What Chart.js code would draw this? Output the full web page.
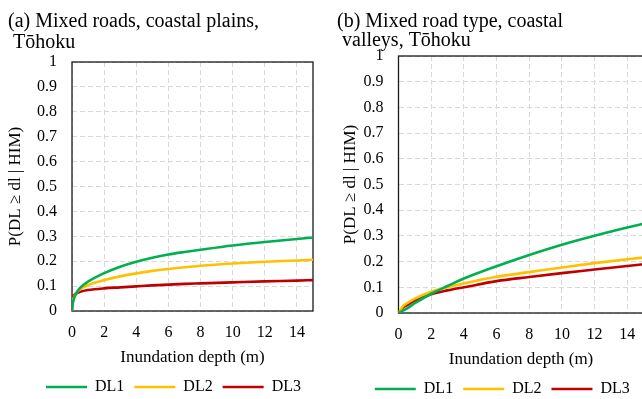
<!DOCTYPE html>
<html>
<head>
<meta charset="utf-8">
<script src="https://cdn.jsdelivr.net/npm/chart.js@4/dist/chart.umd.min.js"></script>
<style>
  html, body { margin: 0; padding: 0; width: 642px; height: 399px; overflow: hidden; background: #fff; }
  canvas { position: absolute; top: 0; }
  #chartA { left: 0; }
  #chartB { left: 330px; }
</style>
</head>
<body>
<canvas id="chartA" width="330" height="405"></canvas>
<canvas id="chartB" width="330" height="407"></canvas>
<script>
// panel (a) mixed roads, coastal plains
const titleA = ["(a) Mixed roads, coastal plains,", " Tōhoku"];
const depthA = [0, 0.02, 0.05, 0.1, 0.25, 0.5, 1, 2, 3, 4, 5, 6, 7, 8, 10, 12, 14, 15];
const dl1A = [0, 0.015, 0.03, 0.045, 0.07, 0.093, 0.118, 0.152, 0.178, 0.198, 0.214, 0.227, 0.237, 0.246, 0.263, 0.277, 0.289, 0.295];
const dl2A = [0, 0.022, 0.038, 0.052, 0.071, 0.087, 0.104, 0.124, 0.139, 0.151, 0.161, 0.169, 0.176, 0.182, 0.191, 0.198, 0.203, 0.206];
const dl3A = [0, 0.04, 0.052, 0.061, 0.07, 0.077, 0.084, 0.091, 0.095, 0.099, 0.103, 0.106, 0.109, 0.111, 0.115, 0.119, 0.122, 0.124];

// panel (b) mixed road type, coastal valleys
const titleB = ["(b) Mixed road type, coastal", " valleys, Tōhoku"];
const depthB = [0, 0.25, 0.5, 1, 2, 3, 4, 6, 8, 10, 12, 14, 15];
const dl1B = [0, 0.008, 0.017, 0.038, 0.075, 0.105, 0.134, 0.182, 0.226, 0.266, 0.301, 0.333, 0.347];
const dl2B = [0, 0.025, 0.037, 0.056, 0.083, 0.1, 0.115, 0.141, 0.159, 0.177, 0.194, 0.209, 0.216];
const dl3B = [0, 0.02, 0.03, 0.048, 0.073, 0.088, 0.1, 0.124, 0.14, 0.155, 0.169, 0.183, 0.19];

const seriesNames = ["DL1", "DL2", "DL3"];
const seriesColors = ["#00B050", "#FFC000", "#C00000"];
const xTickLabels = ["0", "2", "4", "6", "8", "10", "12", "14"];
const yTickLabels = ["0", "0.1", "0.2", "0.3", "0.4", "0.5", "0.6", "0.7", "0.8", "0.9", "1"];
const xTitle = "Inundation depth (m)";
const yTitle = "P(DL ≥ dl | HIM)";

const serif = "'Liberation Serif', 'Times New Roman', serif";

// heading text above the plot
const headingPlugin = {
    id: "heading",
    afterDraw(chart, args, opts) {
        const ctx = chart.ctx;
        ctx.save();
        ctx.font = "20px " + serif;
        ctx.fillStyle = "#000";
        ctx.textAlign = "left";
        ctx.textBaseline = "alphabetic";
        opts.lines.forEach((t, i) => ctx.fillText(t, opts.x, opts.y[i]));
        ctx.restore();
    }
};

// black box round the plot area
const framePlugin = {
    id: "frame",
    beforeDatasetsDraw(chart) {
        const {ctx, chartArea: a} = chart;
        ctx.save();
        ctx.strokeStyle = "#1a1a1a";
        ctx.lineWidth = 1.3;
        ctx.strokeRect(a.left, a.top, a.right - a.left, a.bottom - a.top);
        ctx.restore();
    }
};

function points(xs, ys) {
    return xs.map((x, i) => ({x: x, y: ys[i]}));
}

function makeChart(id, xs, series, cfg) {
    const ctx = document.getElementById(id).getContext("2d");
    return new Chart(ctx, {
        type: "line",
        data: {
            datasets: series.map((ys, i) => ({
                label: seriesNames[i],
                data: points(xs, ys),
                borderColor: seriesColors[i],
                backgroundColor: seriesColors[i],
                borderWidth: 2.6,
                pointRadius: 0,
                cubicInterpolationMode: "monotone",
                fill: false
            }))
        },
        options: {
            responsive: false,
            animation: false,
            layout: { padding: { left: cfg.padLeft, right: cfg.padRight, top: cfg.top, bottom: 0 } },
            scales: {
                x: {
                    type: "linear",
                    min: 0,
                    max: 15,
                    afterFit: s => { s.height = cfg.xHeight; },
                    ticks: {
                        stepSize: 2,
                        includeBounds: false,
                        maxRotation: 0,
                        padding: 12,
                        color: "#000",
                        font: { family: serif, size: 16 },
                        callback: v => xTickLabels[Math.round(v / 2)]
                    },
                    grid: { color: "#d9d9d9", lineWidth: 1, drawTicks: false },
                    border: { display: false, dash: [5, 3] },
                    title: {
                        display: true,
                        text: xTitle,
                        color: "#000",
                        font: { family: serif, size: 17 },
                        padding: { top: 0, bottom: 1 }
                    }
                },
                y: {
                    min: 0,
                    max: 1,
                    afterFit: s => { s.width = cfg.yWidth; },
                    ticks: {
                        stepSize: 0.1,
                        padding: 15,
                        color: "#000",
                        font: { family: serif, size: 16 },
                        callback: v => yTickLabels[Math.round(v * 10)]
                    },
                    grid: { color: "#d9d9d9", lineWidth: 1, drawTicks: false },
                    border: { display: false, dash: [5, 3] },
                    title: {
                        display: true,
                        text: yTitle,
                        color: "#000",
                        font: { family: serif, size: 17 },
                        padding: { top: cfg.yTitlePad, bottom: 0 }
                    }
                }
            },
            plugins: {
                legend: {
                    position: "bottom",
                    labels: {
                        usePointStyle: true,
                        pointStyle: "line",
                        pointStyleWidth: 41,
                        padding: 10,
                        color: "#000",
                        font: { family: serif, size: 16 }
                    }
                },
                tooltip: { enabled: false },
                heading: { lines: cfg.heading, x: cfg.headX, y: cfg.headY }
            }
        },
        plugins: [headingPlugin, framePlugin]
    });
}

makeChart("chartA", depthA, [dl1A, dl2A, dl3A], {
    padLeft: 34, padRight: 17, top: 62, xHeight: 58, yWidth: 38, yTitlePad: -29,
    heading: titleA, headX: 8, headY: [27, 48]
});

makeChart("chartB", depthB, [dl1B, dl2B, dl3B], {
    padLeft: 31, padRight: 16.4, top: 56, xHeight: 58, yWidth: 37.5, yTitlePad: -21,
    heading: titleB, headX: 7, headY: [27, 46]
});
</script>
</body>
</html>
